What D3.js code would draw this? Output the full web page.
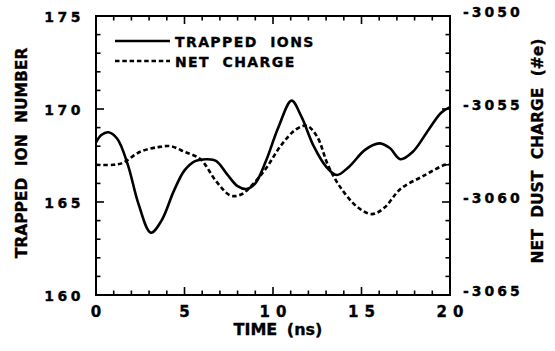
<!DOCTYPE html>
<html>
<head>
<meta charset="utf-8">
<script src="https://cdn.jsdelivr.net/npm/d3@7"></script>
<style>
  html, body { margin: 0; padding: 0; background: #fff; }
  svg { display: block; }
  text { font-family: "DejaVu Sans", "Liberation Sans", sans-serif; font-weight: bold; fill: #000; stroke: #000; stroke-width: 0.35px; }
</style>
</head>
<body>
<svg id="chart" width="555" height="351"></svg>
<script>
// Time axis (ns)
const timeTicks = [0, 5, 10, 15, 20];
// Left axis: trapped ion number
const ionTicks = [160, 165, 170, 175];
// Right axis: net dust charge (#e)
const chargeTicks = [-3065, -3060, -3055, -3050];

// Trapped ion number vs time
const ionTime =  [0, 0.3, 0.7, 1.2, 1.8, 2.4, 3.1, 3.7, 4.4, 5.0, 5.6, 6.3, 6.8, 7.4, 8.0, 8.5, 9.0, 9.6, 10.3, 11.05, 11.6, 12.3, 13.0, 13.6, 14.3, 15.2, 16.0, 16.6, 17.2, 17.9, 18.8, 19.5, 20];
const ionValue = [168.2, 168.6, 168.75, 168.4, 167.0, 164.9, 163.35, 164.0, 165.6, 166.7, 167.2, 167.3, 167.2, 166.5, 165.85, 165.7, 166.0, 167.2, 169.0, 170.45, 169.6, 168.0, 166.9, 166.45, 166.9, 167.8, 168.15, 167.9, 167.3, 167.7, 168.9, 169.8, 170.1];

// Net dust charge vs time
const chargeTime =  [0, 1.0, 1.5, 2.5, 3.5, 4.2, 5.0, 5.9, 6.8, 7.6, 8.2, 9.0, 9.6, 10.5, 11.3, 11.9, 12.5, 13.1, 13.8, 14.8, 15.6, 16.3, 17.2, 18.5, 19.7, 20];
const chargeValue = [-3058.0, -3058.0, -3057.9, -3057.3, -3057.05, -3057.0, -3057.3, -3057.7, -3058.9, -3059.65, -3059.6, -3058.9, -3058.2, -3056.9, -3056.1, -3055.9, -3056.5, -3058.0, -3059.2, -3060.3, -3060.65, -3060.3, -3059.3, -3058.6, -3058.0, -3057.95];

const seriesNames = ["TRAPPED  IONS", "NET  CHARGE"];

const svg = d3.select("#chart");
const m = { left: 96, right: 450, top: 16, bottom: 295 };

const x = d3.scaleLinear().domain([0, 20]).range([m.left, m.right]);
const yL = d3.scaleLinear().domain([160, 175]).range([m.bottom, m.top]);
const yR = d3.scaleLinear().domain([-3065, -3050]).range([m.bottom, m.top]);

const g = svg.append("g");

// Inward ticks on all four sides: minor every unit, longer every five
const xMinor = d3.range(0, 20.5, 1);
const yLMinor = d3.range(160, 175.5, 1);
const yRMinor = d3.range(-3065, -3049.5, 1);

const ticks = g.append("g").attr("stroke", "#000").attr("stroke-width", 1.6);
xMinor.forEach(t => {
  const len = (t % 5 === 0) ? 8 : 4.5;
  ticks.append("line").attr("x1", x(t)).attr("x2", x(t)).attr("y1", m.bottom).attr("y2", m.bottom - len);
  ticks.append("line").attr("x1", x(t)).attr("x2", x(t)).attr("y1", m.top).attr("y2", m.top + len);
});
yLMinor.forEach(v => {
  const len = (v % 5 === 0) ? 8 : 4.5;
  ticks.append("line").attr("x1", m.left).attr("x2", m.left + len).attr("y1", yL(v)).attr("y2", yL(v));
});
yRMinor.forEach(v => {
  const len = (v % 5 === 0) ? 8 : 4.5;
  ticks.append("line").attr("x1", m.right).attr("x2", m.right - len).attr("y1", yR(v)).attr("y2", yR(v));
});

// Frame
g.append("rect")
  .attr("x", m.left).attr("y", m.top)
  .attr("width", m.right - m.left).attr("height", m.bottom - m.top)
  .attr("fill", "none").attr("stroke", "#000").attr("stroke-width", 2);

// Tick labels
g.selectAll(".xl").data(timeTicks).join("text")
  .attr("x", d => x(d) + 3)
  .attr("y", 317)
  .attr("text-anchor", "middle")
  .style("font-size", "15px")
  .style("letter-spacing", "6px")
  .text(d => d);

g.selectAll(".yl").data(ionTicks).join("text")
  .attr("x", 84)
  .attr("y", d => yL(d) + 6)
  .attr("text-anchor", "end")
  .style("font-size", "14px")
  .style("letter-spacing", "3.5px")
  .text(d => d);

g.selectAll(".yr").data(chargeTicks).join("text")
  .attr("x", 463)
  .attr("y", d => yR(d) + 1)
  .attr("text-anchor", "start")
  .style("font-size", "14px")
  .style("letter-spacing", "3px")
  .text(d => d);

// Axis titles
g.append("text")
  .attr("x", 278).attr("y", 335)
  .attr("text-anchor", "middle")
  .style("font-size", "16px")
  .style("word-spacing", "4px")
  .text("TIME (ns)");

g.append("text")
  .attr("transform", "translate(27,153) rotate(-90)")
  .attr("text-anchor", "middle")
  .style("font-size", "15.5px")
  .style("word-spacing", "6px")
  .text("TRAPPED ION NUMBER");

g.append("text")
  .attr("transform", "translate(543,151) rotate(-90)")
  .attr("text-anchor", "middle")
  .style("font-size", "15.5px")
  .style("word-spacing", "6px")
  .text("NET DUST CHARGE (#e)");

// Curves
const lineL = d3.line().x(d => x(d[0])).y(d => yL(d[1])).curve(d3.curveCatmullRom.alpha(0.5));
const lineR = d3.line().x(d => x(d[0])).y(d => yR(d[1])).curve(d3.curveCatmullRom.alpha(0.5));

g.append("path")
  .datum(ionTime.map((t, i) => [t, ionValue[i]]))
  .attr("d", lineL)
  .attr("fill", "none").attr("stroke", "#000").attr("stroke-width", 2.6);

g.append("path")
  .datum(chargeTime.map((t, i) => [t, chargeValue[i]]))
  .attr("d", lineR)
  .attr("fill", "none").attr("stroke", "#000").attr("stroke-width", 2.6)
  .attr("stroke-dasharray", "4.5,2.8");

// Legend
const legend = g.append("g");
const legendRows = [
  { name: seriesNames[0], y: 41, dash: null },
  { name: seriesNames[1], y: 61, dash: "4.5,2.8" }
];
legendRows.forEach(r => {
  legend.append("line")
    .attr("x1", 115).attr("x2", 170).attr("y1", r.y).attr("y2", r.y)
    .attr("stroke", "#000").attr("stroke-width", 2.4)
    .attr("stroke-dasharray", r.dash);
  legend.append("text")
    .attr("x", 175).attr("y", r.y + 5.5)
    .style("font-size", "14px")
    .style("letter-spacing", "1.4px")
    .style("white-space", "pre")
    .text(r.name);
});
</script>
</body>
</html>
